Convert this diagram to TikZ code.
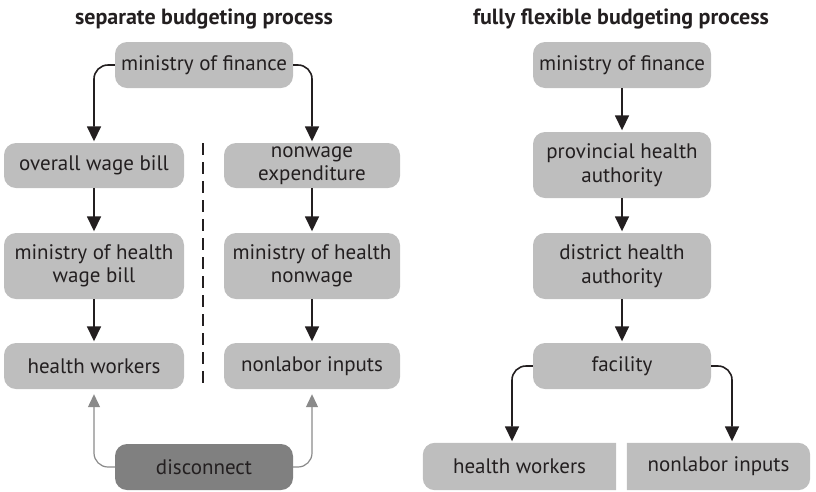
\documentclass[tikz,border=0pt]{standalone}
\usepackage{fontspec}
\setmainfont{PT Sans}
\usetikzlibrary{arrows.meta,backgrounds}
\definecolor{boxgray}{HTML}{BEBEBE}
\definecolor{darkbox}{HTML}{808080}
\definecolor{ink}{HTML}{231F20}
\definecolor{lightarrow}{HTML}{8A8A8A}
\tikzset{
  box/.style={fill=boxgray, rounded corners=12pt, text=ink, align=center,
    inner sep=0pt, font=\fontsize{21}{23.5}\selectfont},
  plain/.style={text=ink, align=center, inner sep=0pt, font=\fontsize{21}{23.5}\selectfont},
  title/.style={text=ink, font=\fontsize{22}{24}\selectfont\bfseries},
  arr/.style={draw=ink, line width=1.6pt, -{Triangle[width=14pt,length=15pt]}, shorten >=1.5pt},
  grayarr/.style={draw=lightarrow, line width=1.2pt, -{Triangle[width=12pt,length=13pt]}, shorten >=5pt},
  elbow/.style={rounded corners=14pt}
}
\begin{document}
\begin{tikzpicture}[x=1pt,y=-1pt]
\useasboundingbox (0,0) rectangle (816,491);
% titles
\node[title] (t1) at (204,19) {separate budgeting process};
\node[title] (t2) at (621,19) {fully flexible budgeting process};
% left panel
\node[box, minimum width=178pt, minimum height=46pt] (lmof) at (204,65) {ministry of finance};
\node[box, minimum width=180pt, minimum height=45pt] (owb) at (94,165.5) {overall wage bill};
\node[box, minimum width=176pt, minimum height=45pt] (nwe) at (312,165.5) {nonwage\\expenditure};
\node[box, minimum width=180pt, minimum height=66pt] (mhw) at (94,266) {ministry of health\\wage bill};
\node[box, minimum width=176pt, minimum height=66pt] (mhn) at (312,266) {ministry of health\\nonwage};
\node[box, minimum width=180pt, minimum height=46pt] (hw) at (94,366) {health workers};
\node[box, minimum width=176pt, minimum height=46pt] (nli) at (312,366) {nonlabor inputs};
\node[box, fill=darkbox, minimum width=178pt, minimum height=46pt] (disc) at (204,467) {disconnect};
\coordinate (dtop) at (203,143);
\coordinate (dbot) at (203,388);
\draw[ink, line width=1.5pt, dash pattern=on 12pt off 7pt] (dtop) -- (dbot);
\draw[arr, elbow] (lmof.west) -| (owb.north);
\draw[arr, elbow] (lmof.east) -| (nwe.north);
\draw[arr] (owb) -- (mhw);
\draw[arr] (nwe) -- (mhn);
\draw[arr] (mhw) -- (hw);
\draw[arr] (mhn) -- (nli);
\draw[grayarr, elbow] (disc.west) -| (hw.south);
\draw[grayarr, elbow] (disc.east) -| (nli.south);
% right panel
\node[box, minimum width=178pt, minimum height=46pt] (rmof) at (622,65) {ministry of finance};
\node[box, minimum width=178pt, minimum height=66pt] (pha) at (622,165) {provincial health\\authority};
\node[box, minimum width=178pt, minimum height=66pt] (dha) at (622,266) {district health\\authority};
\node[box, minimum width=178pt, minimum height=46pt] (fac) at (622,366) {facility};
\node[plain, minimum width=193pt, minimum height=47pt] (rhw) at (519.5,466.5) {health workers};
\node[plain, minimum width=183pt, minimum height=47pt] (rnli) at (718.5,466.5) {nonlabor inputs};
\begin{scope}[on background layer]
\fill[boxgray] (rhw.north east) [rounded corners=12pt] -- (rhw.north west) -- (rhw.south west) [sharp corners] -- (rhw.south east) -- cycle;
\fill[boxgray] (rnli.north west) [rounded corners=12pt] -- (rnli.north east) -- (rnli.south east) [sharp corners] -- (rnli.south west) -- cycle;
\end{scope}
\coordinate (xl) at (512,0);
\coordinate (xr) at (732,0);
\draw[arr] (rmof) -- (pha);
\draw[arr] (pha) -- (dha);
\draw[arr] (dha) -- (fac);
\draw[arr, elbow] (fac.west) -| (xl |- rhw.north);
\draw[arr, elbow] (fac.east) -| (xr |- rnli.north);
\end{tikzpicture}
\end{document}
